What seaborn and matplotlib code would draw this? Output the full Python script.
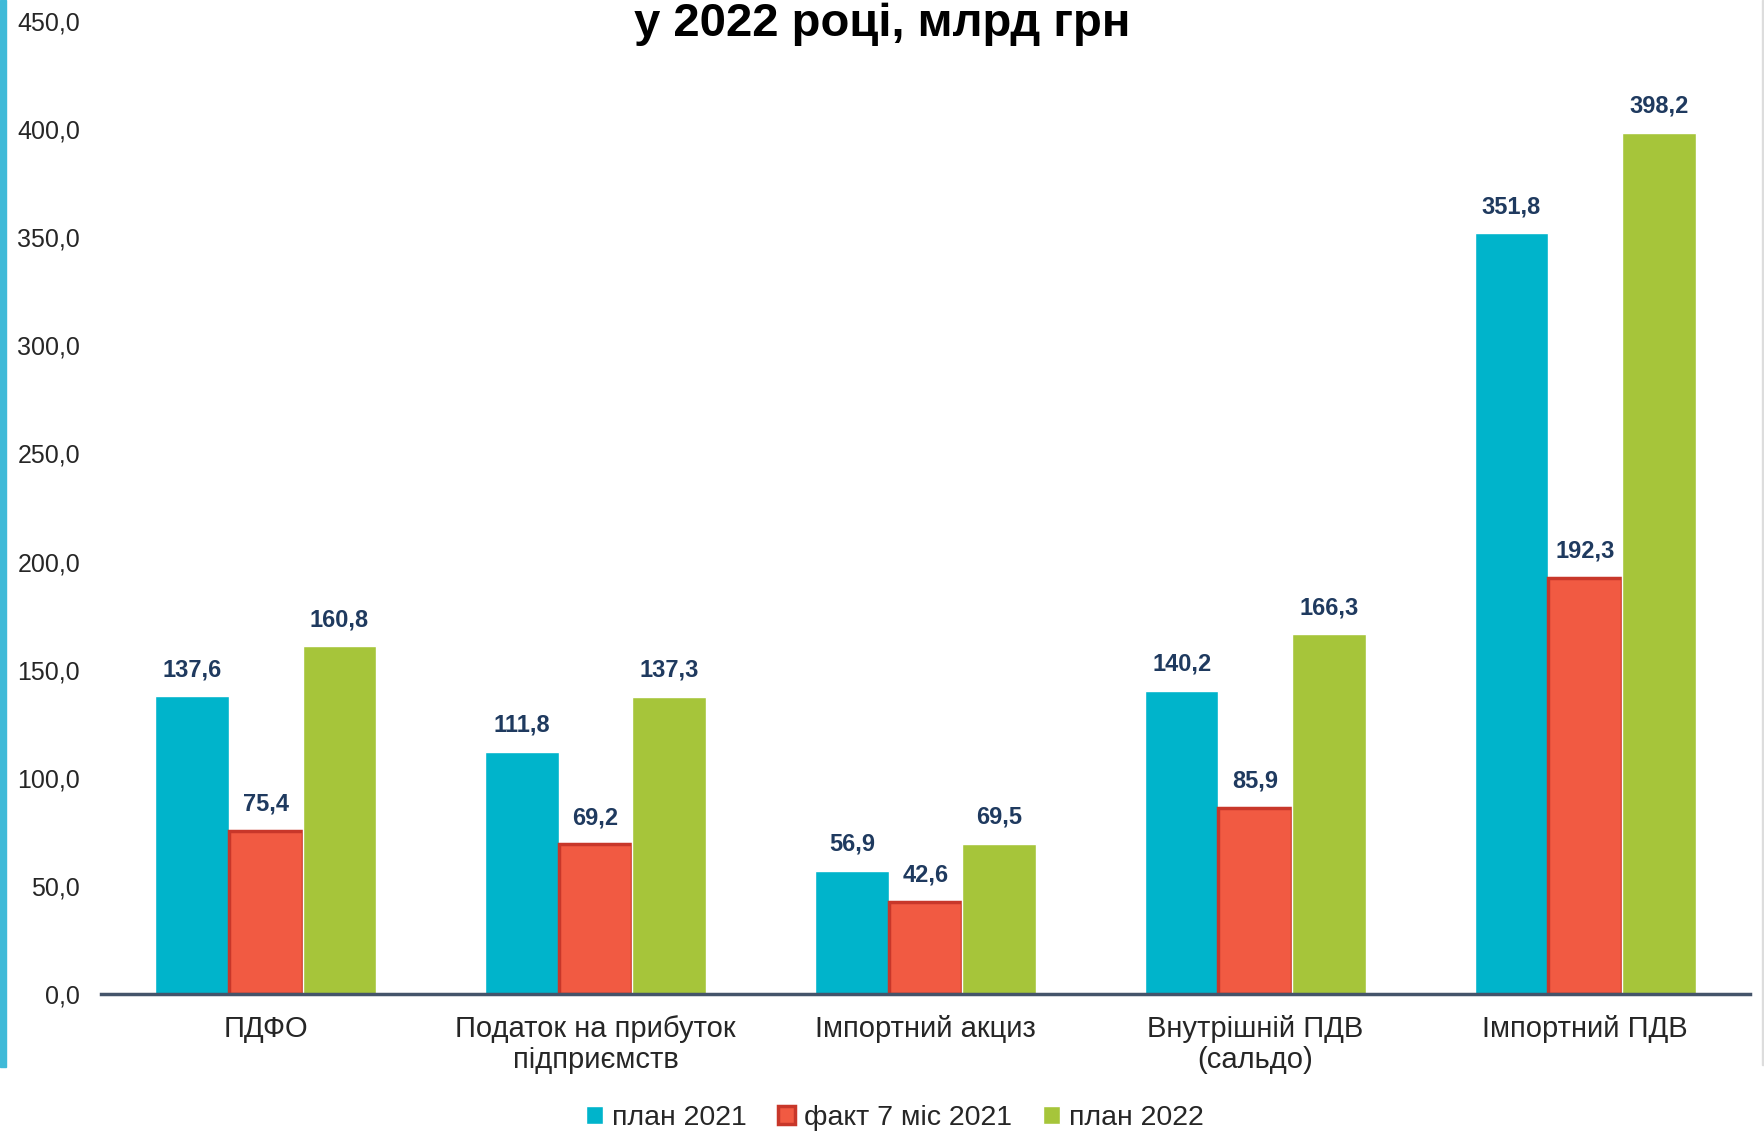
import matplotlib
matplotlib.use("Agg")
import matplotlib.pyplot as plt
import matplotlib.patches as mpatches
import seaborn as sns
import pandas as pd

categories = ["ПДФО", "Податок на прибуток\nпідприємств", "Імпортний акциз",
              "Внутрішній ПДВ\n(сальдо)", "Імпортний ПДВ"]
series = ["план 2021", "факт 7 міс 2021", "план 2022"]
plan_2021 = [137.6, 111.8, 56.9, 140.2, 351.8]
fact_7m_2021 = [75.4, 69.2, 42.6, 85.9, 192.3]
plan_2022 = [160.8, 137.3, 69.5, 166.3, 398.2]
y_ticks = [0, 50, 100, 150, 200, 250, 300, 350, 400, 450]

colors = ["#00B4CB", "#F15A42", "#A6C53A"]

df = pd.DataFrame({
    "cat": categories * 3,
    "series": [s for s in series for _ in categories],
    "value": plan_2021 + fact_7m_2021 + plan_2022,
})

sns.set_theme(style="white")
plt.rcParams["font.family"] = ["Liberation Sans", "DejaVu Sans"]

fig = plt.figure(figsize=(17.65, 11.33), dpi=100)
ax = fig.add_axes([0.0572, 0.1227, 0.9343, 0.8588])

sns.barplot(data=df, x="cat", y="value", hue="series", palette=colors,
            width=0.67, gap=0, saturation=1, ax=ax, legend=True)

# red series has a darker outline
for bar in ax.containers[1]:
    bar.set_edgecolor("#C8372A")
    bar.set_linewidth(2.5)

for cont in ax.containers:
    labels = [f"{v:.1f}".replace(".", ",") for v in cont.datavalues]
    ax.bar_label(cont, labels=labels, padding=11, fontsize=17, fontweight="bold",
                 color="#1F3A5F")

ax.set_xlim(-0.5, 4.5)
ax.set_ylim(0, 450)
ax.set_yticks(y_ticks)
ax.set_yticklabels([f"{t:.1f}".replace(".", ",") for t in y_ticks])
ax.set_xlabel("")
ax.set_ylabel("")
ax.tick_params(axis="y", labelsize=18, pad=15, length=0, colors="#262626")
ax.tick_params(axis="x", labelsize=21, pad=15, length=0, colors="#262626")
for lbl in ax.get_xticklabels():
    lbl.set_linespacing(1.15)

for s in ["top", "right", "left"]:
    ax.spines[s].set_visible(False)
ax.spines["bottom"].set_color("#44546A")
ax.spines["bottom"].set_linewidth(2.5)

handles, labs = ax.get_legend_handles_labels()
ax.get_legend().remove()
handles[1].set_edgecolor("#C8372A")
handles[1].set_linewidth(2.5)
fig.legend(handles, labs, loc="center", bbox_to_anchor=(0.507, 0.0132), ncol=3,
           frameon=False, fontsize=20.5, handlelength=0.6, handleheight=0.6,
           handletextpad=0.3, columnspacing=1.1, labelcolor="#262626")

fig.text(0.5, 1 - 36 / 1133, "у 2022 році, млрд грн", ha="center", va="baseline",
         fontsize=34, fontweight="bold", color="black")

# cyan strip on the left and thin grey line on the right
fig.patches.append(mpatches.Rectangle((0, 1 - 1067 / 1133), 6 / 1765, 1067 / 1133,
                                      transform=fig.transFigure, color="#3FBAD8"))
fig.patches.append(mpatches.Rectangle((1762 / 1765, 1 - 1065 / 1133), 2 / 1765, 1065 / 1133,
                                      transform=fig.transFigure, color="#DDDDDD"))

fig.savefig("out.png", dpi=100)
